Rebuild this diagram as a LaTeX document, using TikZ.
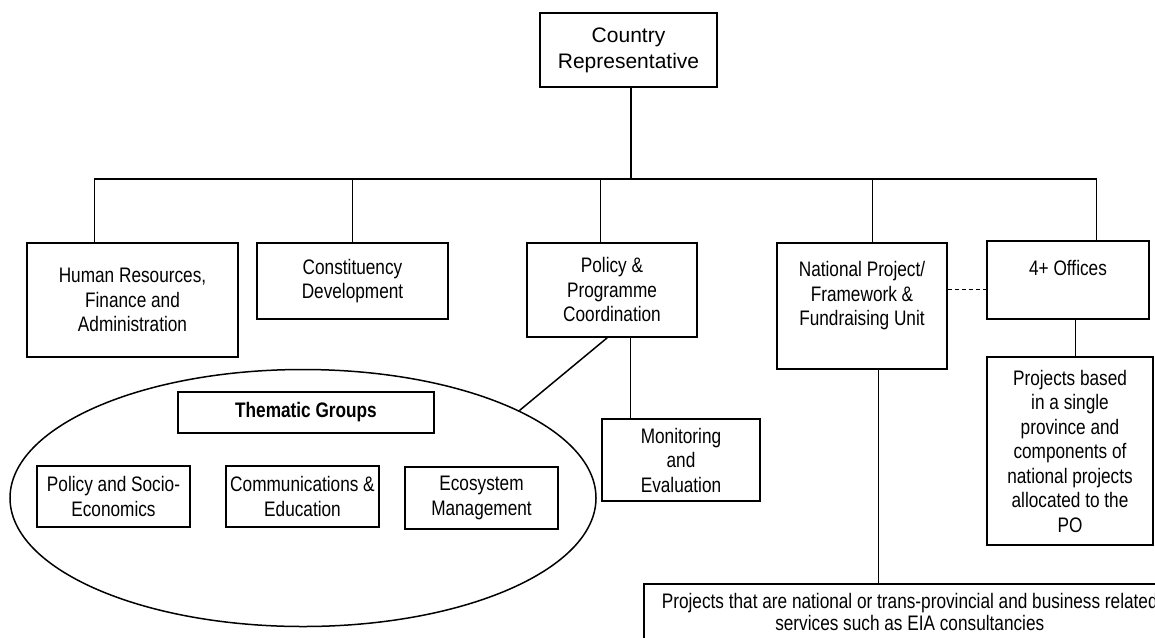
\documentclass[tikz,border=0pt]{standalone}
\usepackage{fontspec}
\setmainfont{Liberation Sans}
\newfontfamily\narrow[FakeStretch=0.82]{Liberation Sans}
\usetikzlibrary{shapes.geometric}

\begin{document}
\begin{tikzpicture}[x=1pt,y=-1pt]
  \tikzstyle{box} = [draw, line width=1.5pt, inner sep=0pt, align=center, font=\narrow\fontsize{21}{24.5}\selectfont]
  \tikzstyle{link} = [line width=1.5pt]
  \useasboundingbox (0,0) rectangle (1155,637);
  \clip (0,0) rectangle (1155,637);
  \node[box, font=\fontsize{21}{26}\selectfont, minimum width=177, minimum height=74] (cr) at (628.5,50) {Country\\Representative};
  \coordinate (bus) at (631,179);
  \node[box, minimum width=211, minimum height=114] (hr) at (132.5,300) {Human Resources,\\Finance and\\Administration};
  \node[box, minimum width=191, minimum height=76] (cd) at (352.5,281) {Constituency\\Development};
  \node[box, minimum width=170, minimum height=94] (pp) at (612,290) {\mbox{}\\[-10pt]Policy \&\\Programme\\Coordination};
  \node[box, minimum width=170, minimum height=126] (np) at (862,306) {National Project/\\Framework \&\\Fundraising Unit\\\mbox{}};
  \node[box, minimum width=162, minimum height=78] (po) at (1068,280) {4+ Offices\\\mbox{}};
  \node[box, minimum width=158, minimum height=82] (me) at (681,460) {Monitoring\\and\\Evaluation};
  \node[box, minimum width=166, minimum height=188] (pb) at (1070,451) {Projects based\\in a single\\province and\\components of\\national projects\\allocated to the\\PO};
  \node[box, anchor=north west, minimum width=532, minimum height=56] (prj) at (643,583) {Projects that are national or trans-provincial and business related\\[-2pt]services such as EIA consultancies};
  \node[draw, ellipse, line width=1.5pt, minimum width=586, minimum height=257, inner sep=0pt] (th) at (303,498) {};
  \node[box, font=\narrow\bfseries\fontsize{21}{24.5}\selectfont, minimum width=256, minimum height=41] (tg) at (306,412.5) {Thematic Groups};
  \node[box, minimum width=153, minimum height=61] (ps) at (113.5,496.5) {Policy and Socio-\\Economics};
  \node[box, minimum width=153, minimum height=61] (ce) at (302.5,496.5) {Communications \&\\Education};
  \node[box, minimum width=153, minimum height=62] (em) at (481.5,498) {Ecosystem\\Management};
  \draw[link] (cr.south -| bus) -- (bus);
  \draw[link] ([xshift=68pt]hr.north west) |- (bus);
  \draw[link] ([xshift=96pt]cd.north west) |- (bus);
  \draw[link] ([xshift=74pt]pp.north west) |- (bus);
  \draw[link] ([xshift=96pt]np.north west) |- (bus);
  \draw[link] ([xshift=110pt]po.north west) |- (bus);
  \draw[link] ([xshift=29pt]me.north west) -- ([xshift=29pt]me.north west |- pp.south);
  \draw[link] ([xshift=81pt]pp.south west) -- (th.22.5);
  \draw[link] ([xshift=102pt]np.south west) -- ([xshift=102pt]np.south west |- prj.north);
  \draw[link] ([xshift=89pt]po.south west) -- ([xshift=89pt]po.south west |- pb.north);
  \draw[line width=0.9pt, dash pattern=on 4pt off 3pt] ([yshift=-9pt]np.east |- po.west) -- ([yshift=-9pt]po.west);
\end{tikzpicture}
\end{document}
